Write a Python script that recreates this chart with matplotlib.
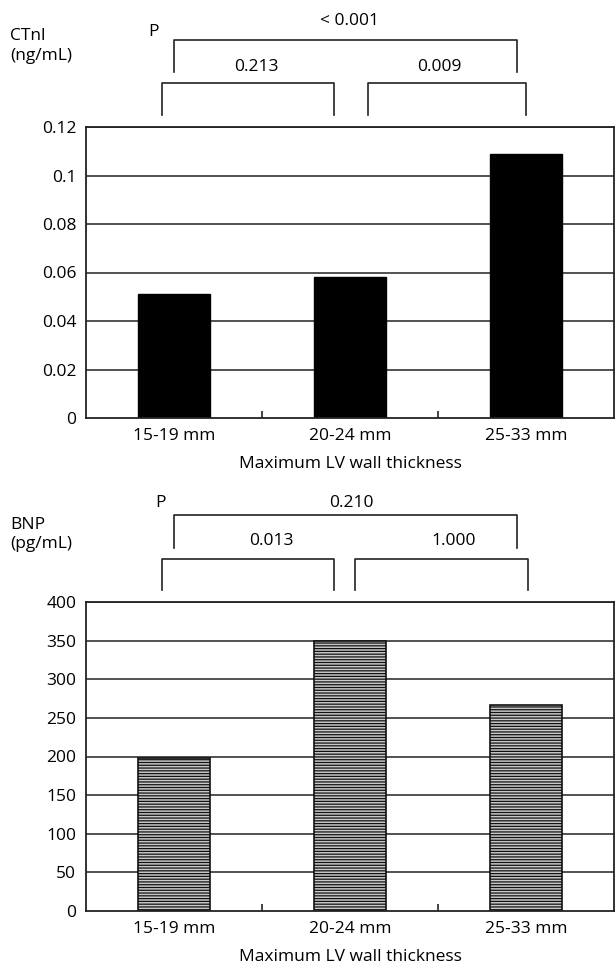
import matplotlib
matplotlib.use('Agg')
import matplotlib.pyplot as plt
import matplotlib.transforms as mtransforms
from matplotlib.lines import Line2D

# Data
groups = ['15-19 mm', '20-24 mm', '25-33 mm']
ctni_values = [0.051, 0.058, 0.109]
bnp_values = [198, 349, 267]

ctni_ticks = [0, 0.02, 0.04, 0.06, 0.08, 0.1, 0.12]
ctni_ticklabels = ['0', '0.02', '0.04', '0.06', '0.08', '0.1', '0.12']
bnp_ticks = [0, 50, 100, 150, 200, 250, 300, 350, 400]

# p-values
ctni_p_all = '< 0.001'
ctni_p_pairs = ['0.213', '0.009']
bnp_p_all = '0.210'
bnp_p_pairs = ['0.013', '1.000']

plt.rcParams['font.family'] = ['Open Sans', 'DejaVu Sans']
plt.rcParams['hatch.linewidth'] = 0.9
plt.rcParams['hatch.color'] = '#333333'

W, H = 616, 964
fig = plt.figure(figsize=(W / 100, H / 100), dpi=100)

ax1 = fig.add_axes([86 / W, 1 - 418 / H, 528 / W, 291 / H])
ax2 = fig.add_axes([86 / W, 1 - 911 / H, 528 / W, 309 / H])

FS = 12.5


def style_axes(ax, ticks, ticklabels, ymax):
    x = range(len(groups))
    ax.set_xlim(-0.5, len(groups) - 0.5)
    ax.set_ylim(0, ymax)
    ax.set_yticks(ticks)
    ax.set_yticklabels(ticklabels, fontsize=FS)
    ax.set_xticks(list(x))
    ax.set_xticklabels(groups, fontsize=FS)
    ax.set_xticks([i + 0.5 for i in range(len(groups) - 1)], minor=True)
    ax.tick_params(axis='both', which='major', length=0)
    ax.tick_params(axis='x', which='major', pad=7)
    ax.tick_params(axis='y', which='major', pad=7)
    ax.tick_params(axis='x', which='minor', length=5, width=1.2,
                   direction='in', color='#222222')
    ax.set_xlabel('Maximum LV wall thickness', fontsize=FS, labelpad=9)
    for s in ax.spines.values():
        s.set_linewidth(1.3)
        s.set_color('#222222')
    for t in ticks[1:]:
        ax.axhline(t, color='#333333', lw=1.2, zorder=1)


def bracket(ax, x0, x1, ytop, ybot):
    trans = mtransforms.blended_transform_factory(ax.transData, ax.transAxes)
    ax.add_line(Line2D([x0, x0, x1, x1], [ybot, ytop, ytop, ybot],
                       transform=trans, color='#222222', lw=1.2,
                       clip_on=False))


def ptext(ax, x, y, s, ha='center'):
    trans = mtransforms.blended_transform_factory(ax.transData, ax.transAxes)
    ax.text(x, y, s, transform=trans, ha=ha, va='center', fontsize=FS)


# Top panel: CTnI
style_axes(ax1, ctni_ticks, ctni_ticklabels, 0.12)
ax1.bar(range(len(groups)), ctni_values, width=0.41, color='black',
        edgecolor='black', zorder=2)
bracket(ax1, 0.0, 1.95, 1.299, 1.189)
bracket(ax1, -0.07, 0.91, 1.151, 1.041)
bracket(ax1, 1.1, 2.0, 1.151, 1.041)
ptext(ax1, 1.0, 1.364, ctni_p_all)
ptext(ax1, 0.47, 1.206, ctni_p_pairs[0])
ptext(ax1, 1.51, 1.206, ctni_p_pairs[1])
ptext(ax1, -0.114, 1.326, 'P')
fig.text(10 / W, 1 - 36 / H, 'CTnl', fontsize=FS, va='center')
fig.text(10 / W, 1 - 56 / H, '(ng/mL)', fontsize=FS, va='center')

# Bottom panel: BNP
style_axes(ax2, bnp_ticks, [str(t) for t in bnp_ticks], 400)
ax2.bar(range(len(groups)), bnp_values, width=0.41, color='#c8c8c8',
        edgecolor='#111111', linewidth=1.2, hatch='------', zorder=2)
bracket(ax2, 0.0, 1.95, 1.282, 1.175)
bracket(ax2, -0.07, 0.91, 1.139, 1.039)
bracket(ax2, 1.03, 2.01, 1.139, 1.039)
ptext(ax2, 1.006, 1.32, bnp_p_all)
ptext(ax2, 0.551, 1.197, bnp_p_pairs[0])
ptext(ax2, 1.59, 1.197, bnp_p_pairs[1])
ptext(ax2, -0.074, 1.32, 'P')
fig.text(10 / W, 1 - 525 / H, 'BNP', fontsize=FS, va='center')
fig.text(10 / W, 1 - 544 / H, '(pg/mL)', fontsize=FS, va='center')

fig.savefig('out.png', dpi=100, facecolor='white')
